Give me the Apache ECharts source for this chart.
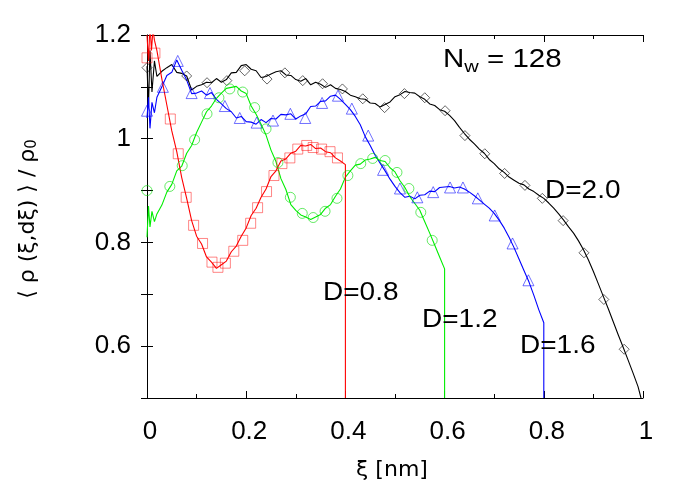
<!DOCTYPE html>
<html><head><meta charset="utf-8">
<script src="https://cdn.jsdelivr.net/npm/echarts@6/dist/echarts.min.js"></script>
<style>html,body{margin:0;padding:0;background:#fff}#c{width:692px;height:485px}</style>
</head><body><div id="c"></div>
<script>
// ---- data ----
const xTickValues = [0, 0.2, 0.4, 0.6, 0.8, 1];
const yTickValues = [0.6, 0.8, 1, 1.2];

// D=0.8 (red)
const redX = [0,0.003,0.006,0.009,0.012,0.015,0.02,0.03,0.04,0.05,0.06,0.07,0.08,0.09,0.10,0.11,0.12,0.13,0.14,0.15,0.16,0.17,0.18,0.19,0.20,0.21,0.22,0.23,0.24,0.25,0.26,0.27,0.28,0.29,0.30,0.31,0.32,0.33,0.34,0.35,0.36,0.37,0.38,0.39,0.40,0.40];
const redY = [1.20,1.15,1.22,1.17,1.21,1.19,1.17,1.115,1.065,1.015,0.975,0.925,0.885,0.842,0.812,0.797,0.772,0.762,0.750,0.757,0.764,0.782,0.793,0.812,0.828,0.852,0.866,0.887,0.903,0.927,0.938,0.957,0.961,0.972,0.976,0.987,0.986,0.989,0.981,0.982,0.975,0.973,0.963,0.957,0.950,0.50];
const redMX = [0,0.016,0.047,0.063,0.079,0.094,0.112,0.131,0.143,0.158,0.175,0.193,0.209,0.223,0.241,0.256,0.272,0.288,0.304,0.322,0.335,0.352,0.369,0.384];
const redMY = [1.156,1.165,1.038,0.971,0.887,0.833,0.798,0.762,0.752,0.760,0.783,0.804,0.837,0.867,0.898,0.929,0.952,0.963,0.980,0.987,0.983,0.980,0.975,0.963];

// D=1.2 (green)
const greenX = [0,0.003,0.006,0.01,0.015,0.02,0.03,0.04,0.05,0.06,0.07,0.08,0.09,0.10,0.11,0.12,0.13,0.14,0.15,0.16,0.17,0.18,0.19,0.20,0.21,0.22,0.23,0.24,0.25,0.26,0.27,0.28,0.29,0.30,0.31,0.32,0.33,0.34,0.35,0.36,0.37,0.38,0.39,0.40,0.41,0.42,0.43,0.44,0.45,0.46,0.47,0.48,0.49,0.50,0.51,0.52,0.53,0.54,0.55,0.56,0.57,0.58,0.59,0.60,0.60];
const greenY = [0.81,0.87,0.83,0.86,0.84,0.855,0.872,0.897,0.912,0.938,0.947,0.972,0.987,1.012,1.032,1.052,1.063,1.078,1.088,1.097,1.099,1.101,1.092,1.087,1.063,1.047,1.028,1.007,0.978,0.956,0.923,0.902,0.873,0.862,0.853,0.849,0.844,0.849,0.854,0.866,0.873,0.889,0.903,0.926,0.938,0.949,0.951,0.959,0.961,0.964,0.958,0.956,0.944,0.936,0.919,0.906,0.888,0.875,0.862,0.840,0.818,0.795,0.772,0.749,0.50];
const greenMX = [0,0.046,0.071,0.096,0.121,0.145,0.167,0.193,0.217,0.240,0.264,0.289,0.313,0.335,0.359,0.383,0.405,0.431,0.455,0.480,0.504,0.528,0.552,0.575];
const greenMY = [0.900,0.908,0.948,0.998,1.048,1.079,1.096,1.090,1.060,1.019,0.954,0.887,0.856,0.848,0.860,0.885,0.929,0.952,0.962,0.958,0.935,0.904,0.858,0.804];

// D=1.6 (blue)
const blueX = [0,0.003,0.006,0.01,0.015,0.02,0.03,0.04,0.05,0.06,0.07,0.08,0.09,0.10,0.11,0.12,0.13,0.14,0.15,0.16,0.17,0.18,0.19,0.20,0.21,0.22,0.23,0.24,0.25,0.26,0.27,0.28,0.29,0.30,0.31,0.32,0.33,0.34,0.35,0.36,0.37,0.38,0.39,0.40,0.41,0.42,0.43,0.44,0.45,0.46,0.47,0.48,0.49,0.50,0.51,0.52,0.53,0.54,0.55,0.56,0.57,0.58,0.59,0.60,0.61,0.62,0.63,0.64,0.65,0.66,0.67,0.68,0.69,0.70,0.71,0.72,0.73,0.74,0.75,0.76,0.77,0.78,0.79,0.80,0.80];
const blueY = [1.04,1.08,1.02,1.07,1.05,1.08,1.10,1.122,1.128,1.152,1.132,1.113,1.087,1.088,1.092,1.084,1.089,1.076,1.067,1.058,1.052,1.040,1.043,1.033,1.032,1.028,1.037,1.031,1.039,1.038,1.047,1.046,1.048,1.038,1.044,1.048,1.062,1.063,1.072,1.073,1.082,1.084,1.076,1.066,1.056,1.043,1.027,1.004,0.987,0.968,0.953,0.938,0.922,0.908,0.896,0.887,0.889,0.884,0.891,0.892,0.899,0.898,0.906,0.907,0.908,0.905,0.907,0.903,0.897,0.890,0.882,0.874,0.866,0.856,0.843,0.828,0.810,0.790,0.768,0.746,0.724,0.698,0.670,0.645,0.50];
const blueMX = [0,0.032,0.062,0.090,0.127,0.157,0.187,0.221,0.254,0.289,0.319,0.353,0.385,0.413,0.446,0.476,0.510,0.545,0.577,0.611,0.637,0.667,0.701,0.737,0.769];
const blueMY = [1.054,1.100,1.150,1.088,1.088,1.063,1.040,1.031,1.035,1.048,1.040,1.069,1.083,1.058,1.006,0.940,0.904,0.887,0.897,0.906,0.906,0.885,0.852,0.798,0.727];

// D=2.0 (black)
const blackX = [0,0.003,0.006,0.01,0.015,0.02,0.03,0.04,0.05,0.06,0.07,0.08,0.09,0.10,0.11,0.12,0.13,0.14,0.15,0.16,0.17,0.18,0.19,0.20,0.21,0.22,0.23,0.24,0.25,0.26,0.27,0.28,0.29,0.30,0.31,0.32,0.33,0.34,0.35,0.36,0.37,0.38,0.39,0.40,0.41,0.42,0.43,0.44,0.45,0.46,0.47,0.48,0.49,0.50,0.51,0.52,0.53,0.54,0.55,0.56,0.57,0.58,0.59,0.60,0.61,0.62,0.63,0.64,0.65,0.66,0.67,0.68,0.69,0.70,0.71,0.72,0.73,0.74,0.75,0.76,0.77,0.78,0.79,0.80,0.81,0.82,0.83,0.84,0.85,0.86,0.87,0.88,0.89,0.90,0.91,0.92,0.93,0.94,0.95,0.96,0.97,0.98,0.99,0.996];
const blackY = [1.14,1.06,1.17,1.09,1.15,1.12,1.13,1.137,1.143,1.128,1.126,1.121,1.094,1.101,1.104,1.109,1.108,1.116,1.109,1.114,1.127,1.128,1.141,1.143,1.134,1.131,1.118,1.120,1.125,1.129,1.131,1.123,1.122,1.114,1.111,1.116,1.104,1.109,1.105,1.099,1.104,1.097,1.095,1.091,1.084,1.081,1.077,1.076,1.069,1.068,1.061,1.066,1.071,1.081,1.085,1.091,1.089,1.088,1.081,1.076,1.067,1.064,1.056,1.053,1.045,1.035,1.022,1.010,0.999,0.990,0.980,0.972,0.960,0.952,0.942,0.935,0.926,0.920,0.914,0.911,0.903,0.898,0.891,0.885,0.876,0.866,0.855,0.843,0.830,0.818,0.803,0.786,0.766,0.744,0.720,0.696,0.672,0.647,0.622,0.598,0.573,0.548,0.522,0.50];
const blackMX = [0,0.080,0.121,0.161,0.197,0.242,0.278,0.314,0.354,0.394,0.435,0.479,0.519,0.560,0.601,0.641,0.681,0.721,0.762,0.797,0.839,0.881,0.921,0.962];
const blackMY = [1.137,1.121,1.108,1.112,1.131,1.115,1.127,1.112,1.106,1.096,1.077,1.060,1.087,1.079,1.054,1.006,0.971,0.933,0.910,0.885,0.842,0.780,0.690,0.594];

const pairs = (xs, ys) => xs.map((x, i) => [x, ys[i]]);

const FONT = 'Liberation Sans, Arial, sans-serif';
const FONT2 = 'DejaVu Sans, sans-serif';
const chart = echarts.init(document.getElementById('c'), null, {renderer: 'canvas'});

function lineSeries(name, xs, ys, color) {
  return {name, type: 'line', data: pairs(xs, ys), xAxisIndex: 0, yAxisIndex: 0,
    showSymbol: false, symbol: 'none', smooth: false, clip: true,
    lineStyle: {color, width: 1.1}, z: 3, animation: false};
}
function markerSeries(name, xs, ys, color, symbol, size) {
  return {name: name + 'm', type: 'scatter', data: pairs(xs, ys), xAxisIndex: 0, yAxisIndex: 0,
    symbol, symbolSize: size, clip: true,
    itemStyle: {color: 'rgba(0,0,0,0)', borderColor: color, borderWidth: 1}, z: 4, animation: false};
}

const axisCommon = {
  axisLine: {show: true, lineStyle: {color: '#000', width: 1}},
  axisTick: {show: true, inside: true, length: 7, lineStyle: {color: '#000'}},
  splitLine: {show: false}
};

const option = {
  backgroundColor: '#fff',
  animation: false,
  grid: {left: 147, right: 49, top: 35, bottom: 87, containLabel: false},
  xAxis: [
    Object.assign({}, axisCommon, {type: 'value', min: 0, max: 1, interval: 0.2, position: 'bottom',
      minorTick: {show: true, splitNumber: 2, length: 4, lineStyle: {color: '#000'}},
      axisLabel: {show: true, margin: 21, color: '#000', fontFamily: FONT, fontSize: 26, padding: [0, 0, 0, 6],
        formatter: v => { const t = xTickValues.find(t => Math.abs(t - v) < 1e-6); return t === undefined ? '' : String(t); }}}),
    Object.assign({}, axisCommon, {type: 'value', min: 0, max: 1, interval: 0.2, position: 'top',
      minorTick: {show: true, splitNumber: 2, length: 4, lineStyle: {color: '#000'}},
      axisLabel: {show: false}})
  ],
  yAxis: [
    Object.assign({}, axisCommon, {type: 'value', min: 0.5, max: 1.2, interval: 0.1, position: 'left',
      axisLine: {show: true, lineStyle: {color: '#555', width: 1}},
      axisTick: {show: true, inside: true, length: 6, lineStyle: {color: '#000'}},
      axisLabel: {show: true, margin: 16, color: '#000', fontFamily: FONT, fontSize: 26,
        formatter: v => { const t = yTickValues.find(t => Math.abs(t - v) < 1e-6); return t === undefined ? '' : String(t); }}}),
    Object.assign({}, axisCommon, {type: 'value', min: 0.5, max: 1.2, interval: 0.1, position: 'right',
      axisTick: {show: true, inside: true, length: 6, lineStyle: {color: '#000'}},
      axisLabel: {show: false}})
  ],
  series: [
    lineSeries('D=2.0', blackX, blackY, '#000000'),
    markerSeries('D=2.0', blackMX, blackMY, 'rgba(0,0,0,0.75)', 'diamond', 10),
    lineSeries('D=1.6', blueX, blueY, '#0000ff'),
    markerSeries('D=1.6', blueMX, blueMY, 'rgba(0,0,255,0.7)', 'triangle', 11),
    lineSeries('D=1.2', greenX, greenY, '#00ee00'),
    markerSeries('D=1.2', greenMX, greenMY, 'rgba(0,220,0,0.75)', 'circle', 10),
    lineSeries('D=0.8', redX, redY, '#ff0000'),
    markerSeries('D=0.8', redMX, redMY, 'rgba(255,0,0,0.6)', 'rect', 10)
  ],
  graphic: [
    {type: 'text', x: 443, y: 45, scaleX: 1.18, z: 10, style: {text: '{n|N}{s|w}{n| = 128}', fill: '#000',
      rich: {n: {fontFamily: FONT, fontSize: 25, fill: '#000'}, s: {fontFamily: FONT, fontSize: 17, fill: '#000', padding: [14, 0, 0, 0]}}}},
    {type: 'text', x: 545, y: 191, scaleX: 1.12, z: 10, style: {text: 'D=2.0', font: '25px ' + FONT, fill: '#000', verticalAlign: 'middle', align: 'left'}},
    {type: 'text', x: 323, y: 293, scaleX: 1.12, z: 10, style: {text: 'D=0.8', font: '25px ' + FONT, fill: '#000', verticalAlign: 'middle', align: 'left'}},
    {type: 'text', x: 422, y: 320, scaleX: 1.12, z: 10, style: {text: 'D=1.2', font: '25px ' + FONT, fill: '#000', verticalAlign: 'middle', align: 'left'}},
    {type: 'text', x: 520, y: 346, scaleX: 1.12, z: 10, style: {text: 'D=1.6', font: '25px ' + FONT, fill: '#000', verticalAlign: 'middle', align: 'left'}},
    {type: 'text', x: 392, y: 470, z: 10, style: {text: 'ξ [nm]', font: '22px ' + FONT2, fill: '#000', verticalAlign: 'middle', align: 'center'}},
    {type: 'text', x: 28, y: 219, rotation: Math.PI / 2, z: 10, style: {text: '{n|⟨ ρ (ξ,dξ) ⟩ / ρ}{s|0}', verticalAlign: 'middle', align: 'center',
      rich: {n: {fontFamily: FONT2, fontSize: 22, fill: '#000'}, s: {fontFamily: FONT2, fontSize: 15, fill: '#000', padding: [9, 0, 0, 0]}}}}
  ]
};
chart.setOption(option);
</script>
</body></html>
